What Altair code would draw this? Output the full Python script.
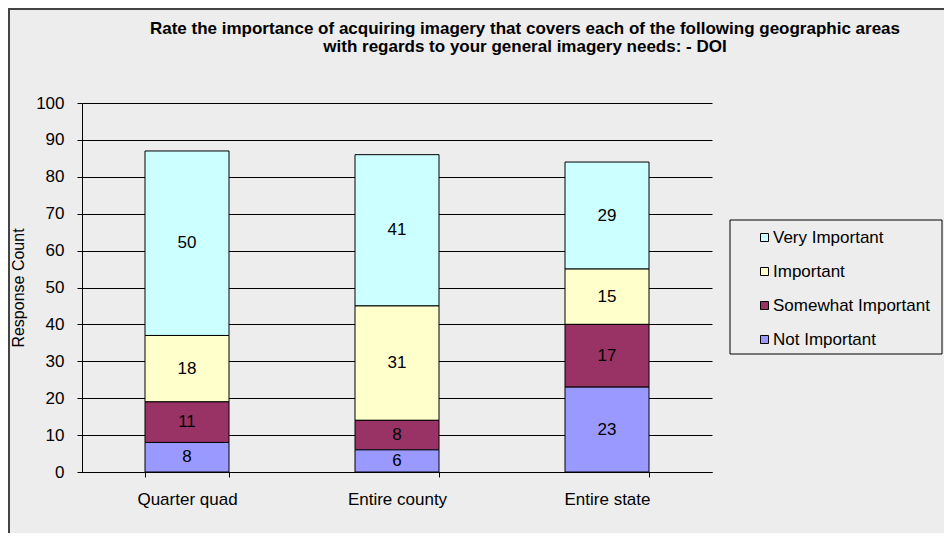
import altair as alt
import pandas as pd

areas = ["Quarter quad", "Entire county", "Entire state"]
levels = ["Very Important", "Important", "Somewhat Important", "Not Important"]
colors = ["#CCFFFF", "#FFFFCC", "#993366", "#9999FF"]
stack_order = [4, 3, 2, 1]  # Not Important at bottom

very_important = [50, 41, 29]
important = [18, 31, 15]
somewhat_important = [11, 8, 17]
not_important = [8, 6, 23]

title_lines = [
    "Rate the importance of acquiring imagery that covers each of the following geographic areas",
    "with regards to your general imagery needs: - DOI",
]
y_title = "Response Count"
y_ticks = list(range(0, 101, 10))

series = [very_important, important, somewhat_important, not_important]
rows = []
for lvl, vals, o in zip(levels, series, stack_order):
    for a, v in zip(areas, vals):
        rows.append({"area": a, "level": lvl, "value": v, "order": o})
df = pd.DataFrame(rows)

FONT = "Liberation Sans"

x_axis = alt.Axis(
    title=None, labelAngle=0, tickBand="extent", tickSize=5,
    labelPadding=14, labelFontSize=17, labelFont=FONT, labelColor="black",
    domainColor="black", tickColor="black", grid=False,
)
x_scale = alt.Scale(paddingInner=0.6, paddingOuter=0.3)

y_axis = alt.Axis(
    values=y_ticks, title=y_title, titleFont=FONT, titleFontSize=16,
    titleFontWeight="normal", titleColor="black", titlePadding=9,
    labelFont=FONT, labelFontSize=17, labelColor="black", labelPadding=13,
    labelOverlap=False,
    tickSize=5, tickColor="black", domainColor="black",
    grid=True, gridColor="black", gridOpacity=1, gridWidth=1,
)
y_scale = alt.Scale(domain=[0, 100], nice=False)

bars = alt.Chart(df).mark_bar(stroke="black", strokeWidth=1).encode(
    x=alt.X("area:N", sort=areas, scale=x_scale, axis=x_axis),
    y=alt.Y("value:Q", stack="zero", scale=y_scale, axis=y_axis),
    color=alt.Color(
        "level:N",
        scale=alt.Scale(domain=levels, range=colors),
        legend=alt.Legend(
            title=None, orient="none", legendX=674, legendY=126,
            symbolType="square", symbolSize=64, symbolStrokeColor="black",
            symbolStrokeWidth=1, symbolOpacity=1,
            labelFont=FONT, labelFontSize=17, labelColor="black",
            labelOffset=0, rowPadding=16, padding=0, labelLimit=300,
        ),
    ),
    order=alt.Order("order:Q"),
)

labels = alt.Chart(df).transform_stack(
    stack="value", groupby=["area"], as_=["y0", "y1"],
    sort=[alt.SortField("order", order="ascending")],
).transform_calculate(
    mid="(datum.y0 + datum.y1) / 2"
).mark_text(font=FONT, fontSize=17, color="black").encode(
    x=alt.X("area:N", sort=areas, scale=x_scale, axis=x_axis),
    y=alt.Y("mid:Q", scale=y_scale, axis=y_axis),
    text=alt.Text("value:Q"),
)

deco = pd.DataFrame({"d": [0]})
legend_box = alt.Chart(deco).mark_rect(fill=None, stroke="black", strokeWidth=1).encode(
    x=alt.value(648), x2=alt.value(860), y=alt.value(117), y2=alt.value(251)
)
frame_left = alt.Chart(deco).mark_rule(color="#444444", strokeWidth=2).encode(
    x=alt.value(-73), y=alt.value(-95), y2=alt.value(430)
)
frame_top = alt.Chart(deco).mark_rule(color="#444444", strokeWidth=2).encode(
    x=alt.value(-74), x2=alt.value(862), y=alt.value(-94)
)

chart = alt.layer(bars, labels, legend_box, frame_left, frame_top).properties(
    width=630,
    height=369,
    padding={"left": 74, "top": 95, "right": 232, "bottom": 61},
    autosize=alt.AutoSizeParams(type="none"),
    background="#EDEDED",
    title=alt.TitleParams(
        text=title_lines, font=FONT, fontSize=17, fontWeight="bold", color="black",
        anchor="middle", frame="group", dx=128, offset=0, dy=49, lineHeight=18,
    ),
).configure_view(stroke=None)

chart.save("out.html", embed_options={"renderer": "svg", "actions": False})
